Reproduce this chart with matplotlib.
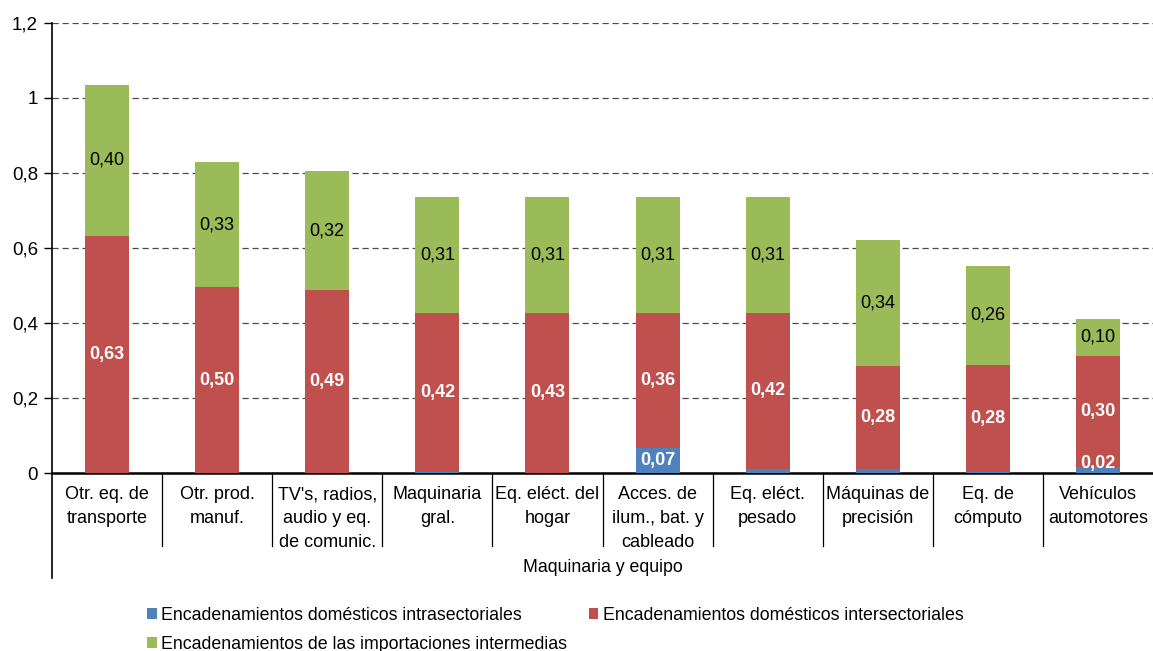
import matplotlib
matplotlib.use("Agg")
import matplotlib.pyplot as plt
import numpy as np

plt.rcParams['font.family'] = ['Liberation Sans', 'DejaVu Sans']

# data
categories = ["Otr. eq. de\ntransporte", "Otr. prod.\nmanuf.", "TV's, radios,\naudio y eq.\nde comunic.",
              "Maquinaria\ngral.", "Eq. eléct. del\nhogar", "Acces. de\nilum., bat. y\ncableado",
              "Eq. eléct.\npesado", "Máquinas de\nprecisión", "Eq. de\ncómputo", "Vehículos\nautomotores"]
intra = [0.0, 0.0, 0.0, 0.004, 0.0, 0.067, 0.012, 0.010, 0.002, 0.017]
inter = [0.632, 0.496, 0.488, 0.423, 0.427, 0.360, 0.414, 0.276, 0.286, 0.295]
imports = [0.403, 0.333, 0.317, 0.309, 0.309, 0.309, 0.310, 0.335, 0.264, 0.099]
intra_labels = ["", "", "", "", "", "0,07", "", "", "", "0,02"]
inter_labels = ["0,63", "0,50", "0,49", "0,42", "0,43", "0,36", "0,42", "0,28", "0,28", "0,30"]
imports_labels = ["0,40", "0,33", "0,32", "0,31", "0,31", "0,31", "0,31", "0,34", "0,26", "0,10"]
group_label = "Maquinaria y equipo"
series_names = ["Encadenamientos domésticos intrasectoriales",
                "Encadenamientos domésticos intersectoriales",
                "Encadenamientos de las importaciones intermedias"]
colors = ["#4F81BD", "#C0504D", "#9BBB59"]

W, H = 1153, 651
fig = plt.figure(figsize=(W / 100, H / 100), dpi=100)
ax = fig.add_axes([52 / W, (H - 473) / H, (W - 52) / W, 450 / H])

x = np.arange(len(categories))
intra = np.array(intra)
inter = np.array(inter)
imports = np.array(imports)
bw = 0.4

b1 = ax.bar(x, intra, bw, color=colors[0], label=series_names[0], zorder=3)
b2 = ax.bar(x, inter, bw, bottom=intra, color=colors[1], label=series_names[1], zorder=3)
b3 = ax.bar(x, imports, bw, bottom=intra + inter, color=colors[2], label=series_names[2], zorder=3)

# value labels
for i in range(len(x)):
    if intra_labels[i]:
        ax.text(x[i], max(intra[i] / 2, 0.026), intra_labels[i], ha='center', va='center',
                color='white', fontweight='bold', fontsize=13, zorder=4)
    ax.text(x[i], intra[i] + inter[i] / 2, inter_labels[i], ha='center', va='center',
            color='white', fontweight='bold', fontsize=13, zorder=4)
    ax.text(x[i], intra[i] + inter[i] + imports[i] / 2, imports_labels[i], ha='center', va='center',
            color='black', fontsize=13, zorder=4)

ax.set_xlim(-0.5, len(x) - 0.5)
ax.set_ylim(0, 1.2)
ax.set_yticks(np.arange(0, 1.21, 0.2))
ax.set_yticklabels(["0", "0,2", "0,4", "0,6", "0,8", "1", "1,2"], fontsize=13.5)
ax.yaxis.grid(True, linestyle=(0, (5, 3)), color='#4a4a4a', linewidth=0.9, zorder=0)
ax.tick_params(axis='y', length=6, width=1, pad=4)
ax.tick_params(axis='x', length=0, labelbottom=False)
for s in ['top', 'right']:
    ax.spines[s].set_visible(False)
ax.spines['left'].set_linewidth(1.2)
ax.spines['bottom'].set_linewidth(1.8)

# two-level category axis
trans = ax.get_xaxis_transform()
for i in range(len(x)):
    ax.text(x[i], -0.029, categories[i], transform=trans, ha='center', va='top',
            fontsize=13, linespacing=1.52)
for i in range(1, len(x)):
    ax.plot([i - 0.5, i - 0.5], [0, -73 / 450], transform=trans, color='black',
            linewidth=0.9, clip_on=False)
ax.plot([-0.5, -0.5], [0, -105 / 450], transform=trans, color='black',
        linewidth=1.2, clip_on=False)
ax.text((len(x) - 1) / 2, -95 / 450, group_label, transform=trans, ha='center', va='center',
        fontsize=12.8)

fig.legend(handles=[b1, b3, b2], loc='upper left', bbox_to_anchor=(140 / W, 1 - 600 / H),
           ncol=2, frameon=False, fontsize=12.8, handlelength=0.55, handleheight=0.55,
           handletextpad=0.25, columnspacing=1.2, labelspacing=0.65, borderaxespad=0)

fig.savefig("out.png", dpi=100)
